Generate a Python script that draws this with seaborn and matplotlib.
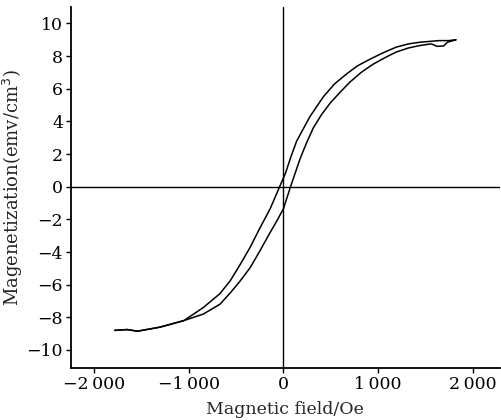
import matplotlib

matplotlib.use("Agg")
import matplotlib.pyplot as plt
import pandas as pd
import seaborn as sns

# descending branch (field from +sat to -sat)
down_field = [1820, 1740, 1640, 1540, 1440, 1320, 1190, 1050, 910, 780, 665, 540,
              420, 280, 140, 80, 20, -40, -140, -250, -350, -460, -560, -670, -845,
              -1050, -1300, -1540, -1650, -1780]
down_mag = [9.0, 8.95, 8.95, 8.9, 8.85, 8.75, 8.55, 8.2, 7.8, 7.4, 6.9, 6.3,
            5.5, 4.3, 2.8, 1.85, 0.8, 0.0, -1.35, -2.55, -3.7, -4.8, -5.75, -6.55, -7.4,
            -8.2, -8.6, -8.85, -8.75, -8.8]

# ascending branch (field from -sat to +sat)
up_field = [-1780, -1650, -1540, -1300, -1050, -845, -670, -560, -460, -350,
            -250, -140, -70, 0, 75, 175, 245, 315, 400, 490, 600, 700, 820, 945,
            1070, 1190, 1320, 1440, 1560, 1620, 1690, 1730, 1820]
up_mag = [-8.8, -8.75, -8.85, -8.6, -8.2, -7.8, -7.2, -6.5, -5.8, -4.95,
          -3.95, -2.8, -2.1, -1.35, 0.0, 1.7, 2.7, 3.6, 4.4, 5.1, 5.8, 6.4, 7.0, 7.5,
          7.9, 8.25, 8.5, 8.65, 8.75, 8.6, 8.62, 8.85, 9.0]

x_ticks = [-2000, -1000, 0, 1000, 2000]
x_tick_labels = ["\u22122\u2009000", "\u22121\u2009000", "0", "1\u2009000", "2\u2009000"]
y_ticks = [-10, -8, -6, -4, -2, 0, 2, 4, 6, 8, 10]
y_tick_labels = [str(v).replace("-", "\u2212") for v in y_ticks]

down = pd.DataFrame({"field": down_field, "mag": down_mag, "branch": "down"})
up = pd.DataFrame({"field": up_field, "mag": up_mag, "branch": "up"})

sns.set_style("ticks")
plt.rcParams["font.family"] = ["DejaVu Serif"]

fig = plt.figure(figsize=(5.01, 4.2), dpi=100)
ax = fig.add_axes([0.141, 0.124, 0.857, 0.859])

for branch in (down, up):
    sns.lineplot(data=branch, x="field", y="mag", sort=False, color="black",
                 linewidth=1.1, ax=ax, estimator=None)

ax.axhline(0, color="black", linewidth=1.0, zorder=1)
ax.axvline(0, color="black", linewidth=1.0, zorder=1)

ax.set_xlim(-2245, 2285)
ax.set_ylim(-11.1, 11.0)
ax.set_xticks(x_ticks)
ax.set_xticklabels(x_tick_labels)
ax.set_yticks(y_ticks)
ax.set_yticklabels(y_tick_labels)
ax.tick_params(direction="out", length=3.5, width=1, labelsize=12.5, pad=2, colors="black")
for side in ("top", "right"):
    ax.spines[side].set_visible(False)
for side in ("left", "bottom"):
    ax.spines[side].set_linewidth(1.3)
    ax.spines[side].set_color("black")

ax.set_xlabel("Magnetic field/Oe", fontsize=12.5, labelpad=6)
ax.set_ylabel("Magenetization(emv/cm$^3$)", fontsize=13, labelpad=1)

fig.savefig("out.png", dpi=100)
